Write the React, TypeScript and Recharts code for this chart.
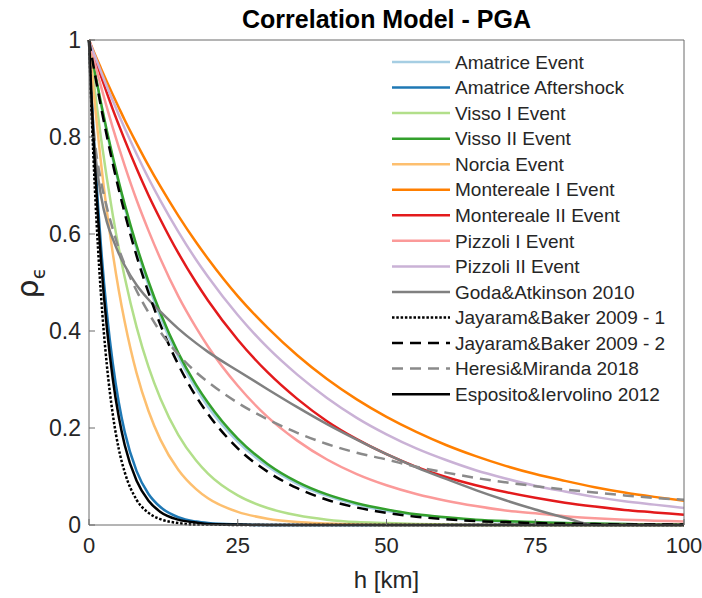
import { LineChart, Line, XAxis, YAxis } from 'recharts'

// distance h [km] where the curves were read
const h = [0, 0.5, 1, 2, 3, 4, 5, 6, 8, 10, 12, 15, 18, 20, 25, 30, 35, 40, 45, 50, 55, 60, 65, 70, 75, 80, 85, 90, 95, 100]

const amatriceEvent = [1, 0.965, 0.932, 0.868, 0.809, 0.754, 0.703, 0.655, 0.569, 0.494, 0.429, 0.347, 0.281, 0.244, 0.172, 0.121, 0.085, 0.06, 0.042, 0.029, 0.021, 0.015, 0.01, 0.007, 0.005, 0.004, 0.002, 0.002, 0.001, 0.001]
const amatriceAftershock = [1, 0.872, 0.76, 0.577, 0.438, 0.333, 0.253, 0.192, 0.111, 0.064, 0.037, 0.016, 0.007, 0.004, 0.001, 0, 0, 0, 0, 0, 0, 0, 0, 0, 0, 0, 0, 0, 0, 0]
const vissoI = [1, 0.946, 0.894, 0.799, 0.715, 0.639, 0.571, 0.511, 0.408, 0.326, 0.261, 0.186, 0.133, 0.106, 0.061, 0.035, 0.02, 0.011, 0.006, 0.004, 0.002, 0.001, 0, 0, 0, 0, 0, 0, 0, 0]
const vissoII = [1, 0.966, 0.933, 0.871, 0.813, 0.759, 0.708, 0.661, 0.576, 0.502, 0.437, 0.355, 0.289, 0.252, 0.178, 0.126, 0.089, 0.063, 0.045, 0.032, 0.022, 0.016, 0.011, 0.008, 0.006, 0.004, 0.003, 0.002, 0.001, 0.001]
const norcia = [1, 0.93, 0.865, 0.748, 0.647, 0.56, 0.484, 0.419, 0.313, 0.235, 0.176, 0.114, 0.074, 0.055, 0.027, 0.013, 0.006, 0.003, 0.001, 0, 0, 0, 0, 0, 0, 0, 0, 0, 0, 0]
const monterealeI = [1, 0.985, 0.97, 0.942, 0.914, 0.887, 0.861, 0.835, 0.787, 0.741, 0.698, 0.638, 0.583, 0.549, 0.472, 0.407, 0.35, 0.301, 0.259, 0.223, 0.192, 0.165, 0.142, 0.122, 0.105, 0.091, 0.078, 0.067, 0.058, 0.05]
const monterealeII = [1, 0.981, 0.962, 0.926, 0.891, 0.857, 0.825, 0.794, 0.735, 0.68, 0.63, 0.561, 0.5, 0.463, 0.382, 0.315, 0.26, 0.214, 0.177, 0.146, 0.12, 0.099, 0.082, 0.068, 0.056, 0.046, 0.038, 0.031, 0.026, 0.021]
const pizzoliI = [1, 0.975, 0.951, 0.905, 0.861, 0.819, 0.779, 0.741, 0.67, 0.607, 0.549, 0.472, 0.407, 0.368, 0.287, 0.223, 0.174, 0.135, 0.105, 0.082, 0.064, 0.05, 0.039, 0.03, 0.024, 0.018, 0.014, 0.011, 0.009, 0.007]
const pizzoliII = [1, 0.983, 0.967, 0.935, 0.904, 0.875, 0.846, 0.818, 0.765, 0.715, 0.669, 0.605, 0.547, 0.512, 0.433, 0.366, 0.31, 0.262, 0.221, 0.187, 0.158, 0.134, 0.113, 0.096, 0.081, 0.069, 0.058, 0.049, 0.042, 0.035]
const godaAtkinson = [1, 0.84, 0.77, 0.68, 0.625, 0.59, 0.56, 0.535, 0.495, 0.465, 0.44, 0.405, 0.375, 0.357, 0.318, 0.28, 0.243, 0.208, 0.176, 0.146, 0.119, 0.095, 0.072, 0.051, 0.032, 0.015, 0, 0, 0, 0]
const jayaram1 = [1, 0.831, 0.691, 0.477, 0.33, 0.228, 0.157, 0.109, 0.052, 0.025, 0.012, 0.004, 0.001, 0.001, 0, 0, 0, 0, 0, 0, 0, 0, 0, 0, 0, 0, 0, 0, 0, 0]
const jayaram2 = [1, 0.964, 0.929, 0.863, 0.802, 0.745, 0.692, 0.643, 0.555, 0.479, 0.413, 0.331, 0.265, 0.229, 0.158, 0.11, 0.076, 0.052, 0.036, 0.025, 0.017, 0.012, 0.008, 0.006, 0.004, 0.003, 0.002, 0.001, 0.001, 0.001]
const heresiMiranda = [1, 0.86, 0.79, 0.71, 0.655, 0.61, 0.57, 0.537, 0.483, 0.438, 0.398, 0.352, 0.315, 0.295, 0.252, 0.218, 0.19, 0.167, 0.149, 0.135, 0.12, 0.108, 0.097, 0.088, 0.08, 0.073, 0.067, 0.061, 0.056, 0.052]
const espositoIervolino = [1, 0.861, 0.741, 0.549, 0.407, 0.301, 0.223, 0.165, 0.091, 0.05, 0.027, 0.011, 0.005, 0.002, 0.001, 0, 0, 0, 0, 0, 0, 0, 0, 0, 0, 0, 0, 0, 0, 0]

const xTicks = [0, 25, 50, 75, 100]
const yTicks = [0, 0.2, 0.4, 0.6, 0.8, 1]

const series = [
  { key: 'amatriceEvent', name: 'Amatrice Event', values: amatriceEvent, color: '#a6cee3', dash: undefined },
  { key: 'amatriceAftershock', name: 'Amatrice Aftershock', values: amatriceAftershock, color: '#1f78b4', dash: undefined },
  { key: 'vissoI', name: 'Visso I Event', values: vissoI, color: '#b2df8a', dash: undefined },
  { key: 'vissoII', name: 'Visso II Event', values: vissoII, color: '#33a02c', dash: undefined },
  { key: 'norcia', name: 'Norcia Event', values: norcia, color: '#fdbf6f', dash: undefined },
  { key: 'monterealeI', name: 'Montereale I Event', values: monterealeI, color: '#ff7f00', dash: undefined },
  { key: 'monterealeII', name: 'Montereale II Event', values: monterealeII, color: '#e31a1c', dash: undefined },
  { key: 'pizzoliI', name: 'Pizzoli I Event', values: pizzoliI, color: '#fb9a99', dash: undefined },
  { key: 'pizzoliII', name: 'Pizzoli II Event', values: pizzoliII, color: '#cab2d6', dash: undefined },
  { key: 'godaAtkinson', name: 'Goda&Atkinson 2010', values: godaAtkinson, color: '#808080', dash: undefined },
  { key: 'jayaram1', name: 'Jayaram&Baker 2009 - 1', values: jayaram1, color: '#000000', dash: '2.5 1.8' },
  { key: 'jayaram2', name: 'Jayaram&Baker 2009 - 2', values: jayaram2, color: '#000000', dash: '11 7' },
  { key: 'heresiMiranda', name: 'Heresi&Miranda 2018', values: heresiMiranda, color: '#8a8a8a', dash: '11 7' },
  { key: 'espositoIervolino', name: 'Esposito&Iervolino 2012', values: espositoIervolino, color: '#000000', dash: undefined },
]

const data = h.map((x, i) => {
  const row: Record<string, number> = { h: x }
  series.forEach((s) => {
    row[s.key] = s.values[i]
  })
  return row
})

const FONT = '"Liberation Sans", Arial, Helvetica, sans-serif'
const TEXT = '#262626'
const AXIS = '#6b6b6b'

function LegendBox() {
  return (
    <g>
      {series.map((s, i) => {
        const y = 62 + i * 25.55
        return (
          <g key={s.key}>
            <line x1={392} x2={450} y1={y} y2={y} stroke={s.color} strokeWidth={2.5} strokeDasharray={s.dash} />
            <text x={455} y={y} dy="0.35em" fontSize={19} fill={TEXT}>
              {s.name}
            </text>
          </g>
        )
      })}
    </g>
  )
}

export default function App() {
  return (
    <div style={{ position: 'absolute', left: 0, top: 0, width: 702, height: 598, background: '#fff', fontFamily: FONT }}>
      <LineChart width={702} height={598} data={data} margin={{ top: 39, right: 17, bottom: 0, left: 0 }}>
        <XAxis
          dataKey="h"
          type="number"
          domain={[0, 100]}
          ticks={xTicks}
          tickSize={-6}
          tickMargin={18}
          height={73}
          stroke={AXIS}
          tick={{ fill: TEXT, fontSize: 22 }}
        />
        <XAxis
          xAxisId="top"
          orientation="top"
          dataKey="h"
          type="number"
          domain={[0, 100]}
          ticks={xTicks}
          tick={false}
          tickSize={-6}
          height={1}
          stroke={AXIS}
        />
        <YAxis
          domain={[0, 1]}
          ticks={yTicks}
          tickSize={-6}
          tickMargin={14}
          width={89}
          stroke={AXIS}
          tick={{ fill: TEXT, fontSize: 23 }}
          tickFormatter={(v) => `${v}`}
        />
        <YAxis
          yAxisId="right"
          orientation="right"
          domain={[0, 1]}
          ticks={yTicks}
          tick={false}
          tickSize={-6}
          width={1}
          stroke={AXIS}
        />
        {series.map((s) => (
          <Line
            key={s.key}
            dataKey={s.key}
            name={s.name}
            type="monotone"
            stroke={s.color}
            strokeWidth={2.5}
            strokeDasharray={s.dash}
            dot={false}
            activeDot={false}
            isAnimationActive={false}
          />
        ))}
      </LineChart>
      <svg width={702} height={598} style={{ position: 'absolute', left: 0, top: 0, pointerEvents: 'none' }}>
        <text x={386.5} y={28} textAnchor="middle" fontSize={25} fontWeight="bold" fill="#000">
          Correlation Model - PGA
        </text>
        <text x={386.5} y={588} textAnchor="middle" fontSize={24} fill={TEXT}>
          h [km]
        </text>
        <text x={38} y={283} textAnchor="middle" fontSize={30} fill={TEXT} transform="rotate(-90 38 283)">
          <tspan fontFamily="DejaVu Sans">ρ</tspan>
          <tspan fontSize={19} dy={7} fontFamily="DejaVu Sans">ϵ</tspan>
        </text>
        <LegendBox />
      </svg>
    </div>
  )
}
